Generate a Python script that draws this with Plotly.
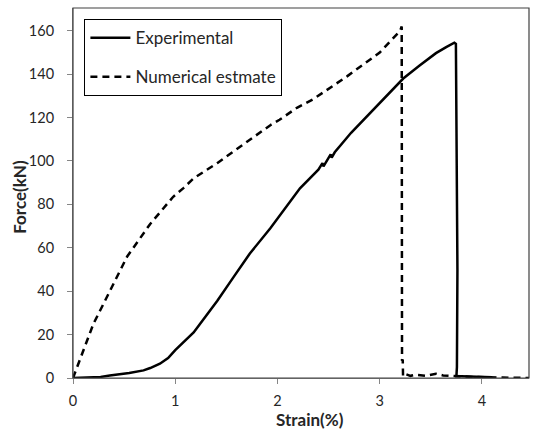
import plotly.graph_objects as go

# Experimental (solid)
exp_strain = [0.0, 0.27, 0.36, 0.55, 0.69, 0.755, 0.85, 0.93, 1.0, 1.1, 1.18, 1.24, 1.34, 1.41, 1.57, 1.73,
              1.93, 2.06, 2.22, 2.40, 2.44, 2.45, 2.50, 2.52, 2.53, 2.56, 2.72, 2.90, 3.06, 3.23, 3.39,
              3.55, 3.65, 3.73, 3.745, 3.76, 3.755, 3.75, 3.80, 3.95, 4.10]
exp_force = [0.0, 0.5, 1.2, 2.3, 3.5, 4.6, 6.6, 9.2, 12.8, 17.2, 21.0, 24.8, 31.0, 35.5, 46.5, 57.4,
             69.0, 77.4, 87.4, 96.0, 99.0, 97.5, 101.0, 103.0, 101.5, 104.0, 113.0, 122.0, 130.0, 138.0, 144.0,
             149.7, 152.5, 154.5, 154.0, 50.0, 5.0, 0.8, 0.8, 0.5, 0.3]

# Numerical estimate (dashed)
num_strain = [0.0, 0.1, 0.2, 0.36, 0.53, 0.755, 0.98, 1.08, 1.18, 1.41, 1.73, 1.93, 2.02, 2.19, 2.35,
              2.68, 3.0, 3.2, 3.215, 3.218, 3.225, 3.228, 3.24, 3.3, 3.35, 3.45, 3.55, 3.62, 3.7, 3.9, 4.2, 4.46]
num_force = [0.0, 13.0, 25.0, 40.0, 56.0, 71.0, 83.5, 87.5, 92.0, 99.0, 110.0, 116.5, 119.0, 124.5, 128.5,
             139.0, 150.0, 160.0, 162.0, 8.0, 8.5, 1.0, 2.0, 1.0, 1.5, 1.0, 2.0, 1.2, 1.0, 0.5, 0.2, 0.0]

x_ticks = [0, 1, 2, 3, 4]
y_ticks = [0, 20, 40, 60, 80, 100, 120, 140, 160]

x_title = "Strain(%)"
y_title = "Force(kN)"

font_family = "Lato, 'Open Sans', sans-serif"
txt = "#262626"

fig = go.Figure()
fig.add_trace(go.Scatter(x=exp_strain, y=exp_force, mode="lines", name="Experimental",
                         legendgroup="a",
                         line=dict(color="black", width=2.5)))
fig.add_trace(go.Scatter(x=num_strain, y=num_force, mode="lines", name="Numerical estmate",
                         legendgroup="b",
                         line=dict(color="black", width=2.5, dash="7px,5px")))

fig.update_layout(
    width=535, height=429,
    margin=dict(l=73, r=6, t=8, b=51),
    paper_bgcolor="white", plot_bgcolor="white",
    font=dict(family=font_family, size=14.5, color=txt),
    showlegend=True,
    legend=dict(x=0.025, y=0.97, xanchor="left", yanchor="top",
                bordercolor="black", borderwidth=1, bgcolor="white",
                font=dict(size=17, color=txt), tracegroupgap=14,
                itemwidth=40),
    xaxis=dict(range=[0, 4.46], tickvals=x_ticks, ticks="outside", ticklen=5,
               tickcolor="#868686", showline=True, linecolor="#868686", linewidth=1,
               showgrid=False, zeroline=False, automargin=False, ticklabelstandoff=5),
    yaxis=dict(range=[0, 170.5], tickvals=y_ticks, ticks="outside", ticklen=5,
               tickcolor="#868686", showline=True, linecolor="#868686", linewidth=1,
               showgrid=False, zeroline=False, automargin=False, ticklabelstandoff=10),
    shapes=[dict(type="rect", xref="paper", yref="paper", x0=0, y0=0, x1=1, y1=1,
                 line=dict(color="#404040", width=1.2), layer="above")],
    annotations=[
        dict(text="<b>" + x_title + "</b>", xref="paper", yref="paper", x=0.52, y=-0.112,
             xanchor="center", yanchor="middle", showarrow=False,
             font=dict(size=17, color=txt)),
        dict(text="<b>" + y_title + "</b>", xref="paper", yref="paper", x=-0.116, y=0.49,
             xanchor="center", yanchor="middle", showarrow=False, textangle=-90,
             font=dict(size=17, color=txt)),
    ],
)

fig.write_html("out.html", config={"displayModeBar": False},
               post_script="document.body.style.margin='0';")
